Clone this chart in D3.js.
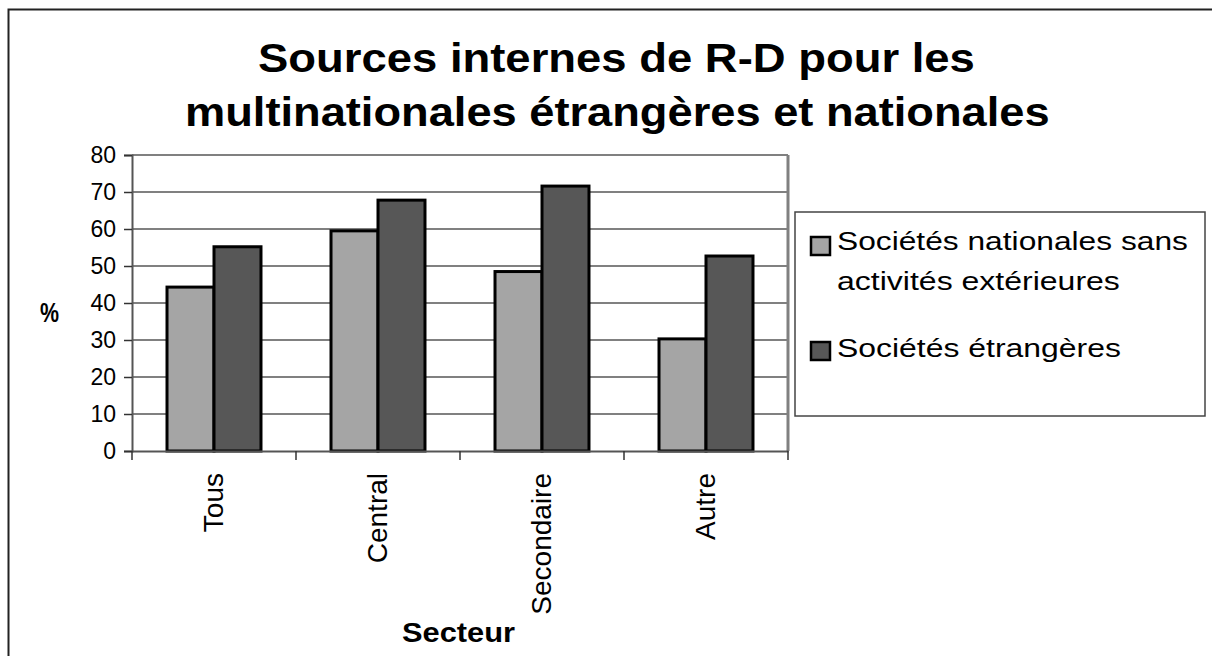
<!DOCTYPE html>
<html><head><meta charset="utf-8">
<script src="https://cdn.jsdelivr.net/npm/d3@7"></script>
<style>body{margin:0;background:#fff}svg{display:block}text{font-family:"Liberation Sans",Arial,sans-serif}</style>
</head><body><svg id="c" width="1212" height="656"></svg>
<script>
const categories = ["Tous", "Central", "Secondaire", "Autre"];
const seriesNames = ["Sociétés nationales sans activités extérieures", "Sociétés étrangères"];
const nationales = [44.3, 59.5, 48.5, 30.3];
const etrangeres = [55.2, 67.8, 71.6, 52.7];
const yTicks = [0, 10, 20, 30, 40, 50, 60, 70, 80];
const colors = ["#a5a5a5", "#575757"];

const svg = d3.select("#c");
const L = 132, R = 788, T = 155, B = 451;
svg.append("rect").attr("x", 8.5).attr("y", 9.5).attr("width", 1220).attr("height", 660)
  .attr("fill", "#fff").attr("stroke", "#222").attr("stroke-width", 2);

const x = d3.scaleBand().domain(categories).range([L, R]).paddingInner(0).paddingOuter(0);
const x1 = d3.scaleBand().domain([0, 1]).range([0, x.bandwidth()]).paddingOuter(0.745).paddingInner(0);
const y = d3.scaleLinear().domain([0, 80]).range([B, T]);

// stretched text helper: fits text horizontally into a given width
function fitText(sel, x0, y0, w) {
  const n = sel.node().getComputedTextLength();
  sel.attr("transform", `translate(${x0},${y0}) scale(${w / n},1)`);
}

// gridlines
svg.append("g").selectAll("line").data(yTicks.filter(d => d > 0)).join("line")
  .attr("x1", L).attr("x2", R).attr("y1", d => y(d)).attr("y2", d => y(d))
  .attr("stroke", "#808080").attr("stroke-width", 2);
svg.append("line").attr("x1", R).attr("x2", R).attr("y1", T).attr("y2", B)
  .attr("stroke", "#808080").attr("stroke-width", 3);

// bars
const data = categories.map((c, i) => ({c, v: [nationales[i], etrangeres[i]]}));
const g = svg.append("g");
data.forEach(d => {
  d.v.forEach((v, s) => {
    g.append("rect")
      .attr("x", x(d.c) + x1(s)).attr("y", y(v))
      .attr("width", x1.bandwidth()).attr("height", y(0) - y(v))
      .attr("fill", colors[s]).attr("stroke", "#000").attr("stroke-width", 3);
  });
});

// y axis
const ya = d3.axisLeft(y).tickValues(yTicks).tickSize(8).tickPadding(17).tickFormat(d3.format("d"));
const yg = svg.append("g").attr("transform", `translate(${L},0)`).call(ya);
yg.select(".domain").attr("stroke", "#555").attr("stroke-width", 2);
yg.selectAll(".tick line").attr("stroke", "#333").attr("stroke-width", 1.5);
yg.selectAll(".tick text").attr("font-size", 23).attr("fill", "#000")
  .attr("font-family", "Liberation Sans, Arial, sans-serif").attr("dx", 9);

// x axis
const xa = d3.axisBottom(x).tickSize(0).tickFormat("");
const xg = svg.append("g").attr("transform", `translate(0,${B})`).call(xa);
xg.select(".domain").attr("stroke", "#555").attr("stroke-width", 2);
const bounds = categories.map(c => x(c)).concat([R]);
xg.selectAll("line.sep").data(bounds).join("line").attr("class", "sep")
  .attr("x1", d => d).attr("x2", d => d).attr("y1", 0).attr("y2", 9)
  .attr("stroke", "#333").attr("stroke-width", 1.5);
xg.selectAll("text.cat").data(categories).join("text").attr("class", "cat")
  .attr("transform", d => `translate(${x(d) + x.bandwidth() / 2 + 9},22) rotate(-90)`)
  .attr("text-anchor", "end").attr("font-size", 28).attr("fill", "#000").text(d => d);

// title
const title = ["Sources internes de R-D pour les", "multinationales étrangères et nationales"];
const tSpan = [[258, 975], [185, 1050]];
title.forEach((t, i) => {
  const el = svg.append("text").attr("font-size", 41).attr("font-weight", "bold").text(t);
  fitText(el, tSpan[i][0], 72 + i * 54, tSpan[i][1] - tSpan[i][0]);
});

// axis titles
const pct = svg.append("text").attr("font-size", 27).attr("font-weight", "bold").text("%");
fitText(pct, 40, 322, 19);
const sect = svg.append("text").attr("font-size", 28).attr("font-weight", "bold").text("Secteur");
fitText(sect, 402, 642, 113);

// legend
svg.append("rect").attr("x", 795).attr("y", 212).attr("width", 410).attr("height", 204)
  .attr("fill", "#fff").attr("stroke", "#444").attr("stroke-width", 1.5);
const legItems = [
  {lines: ["Sociétés nationales sans", "activités extérieures"], spans: [351, 283], sy: 237, by: [250, 290]},
  {lines: ["Sociétés étrangères"], spans: [284], sy: 342, by: [357]}
];
legItems.forEach((it, i) => {
  svg.append("rect").attr("x", 811).attr("y", it.sy).attr("width", 19).attr("height", 18)
    .attr("fill", colors[i]).attr("stroke", "#000").attr("stroke-width", 2.5);
  it.lines.forEach((ln, j) => {
    const el = svg.append("text").attr("font-size", 26).text(ln);
    fitText(el, 837, it.by[j], it.spans[j]);
  });
});
</script></body></html>
